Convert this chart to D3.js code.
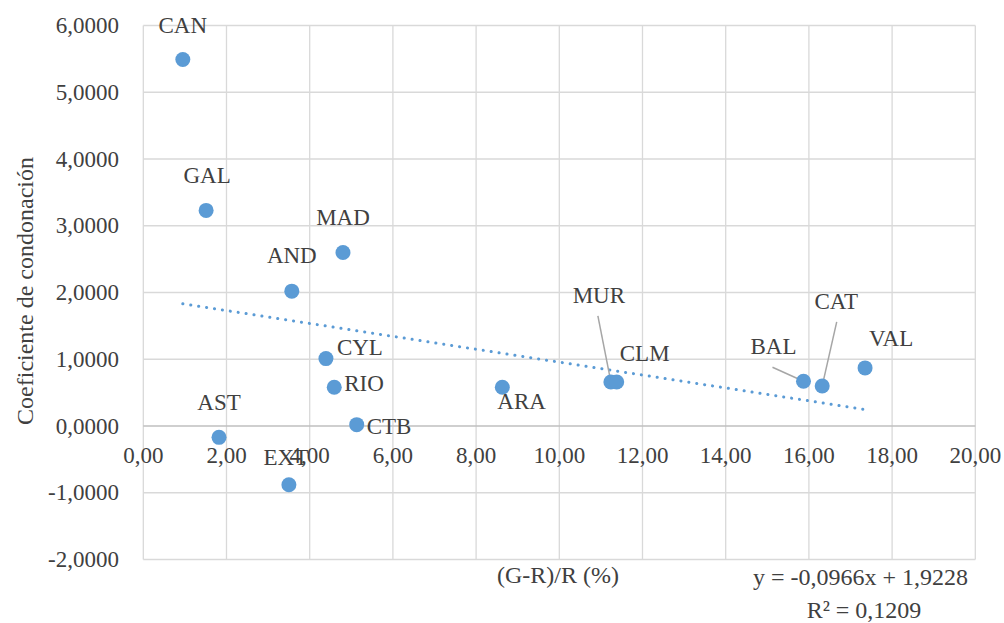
<!DOCTYPE html>
<html>
<head>
<meta charset="utf-8">
<script src="https://cdn.jsdelivr.net/npm/d3@7"></script>
<style>
	body { margin: 0; background: #fff; }
</style>
</head>
<body>
<svg id="chart" width="1004" height="623"></svg>
<script>
const regions = ["CAN", "GAL", "MAD", "AND", "CYL", "RIO", "CTB", "AST", "EXT", "ARA", "MUR", "CLM", "BAL", "CAT", "VAL"];
const growth = [0.95, 1.51, 4.80, 3.57, 4.39, 4.59, 5.13, 1.82, 3.50, 8.63, 11.24, 11.38, 15.87, 16.32, 17.35];
const condonation = [5.49, 3.23, 2.60, 2.02, 1.01, 0.58, 0.02, -0.17, -0.88, 0.58, 0.66, 0.66, 0.67, 0.60, 0.87];
const xTicks = [0, 2, 4, 6, 8, 10, 12, 14, 16, 18, 20];
const yTicks = [-2, -1, 0, 1, 2, 3, 4, 5, 6];
const trend = { slope: -0.0966, intercept: 1.9228, r2: 0.1209 };

// label placement: dx, baseline dy, anchor (relative to the point)
const labelPos = {
	CAN: [0, -27, "middle"], GAL: [1, -27, "middle"], MAD: [0, -27, "middle"],
	AND: [0, -28, "middle"], CYL: [11, -4, "start"], RIO: [10, 4, "start"],
	CTB: [10, 9, "start"], AST: [0, -27, "middle"], EXT: [-3, -20, "middle"],
	ARA: [-5, 22, "start"], MUR: [-12, -79, "middle"], CLM: [28, -21, "middle"],
	BAL: [-30, -27, "middle"], CAT: [14, -77, "middle"], VAL: [26, -22, "middle"]
};
const leaders = { MUR: [-13, -66], BAL: [-31, -14], CAT: [14.5, -64] };

const FONT = "Liberation Serif";
const ink = "#404040";
const svg = d3.select("#chart");
const x = d3.scaleLinear().domain([0, 20]).range([143.3, 975.3]);
const y = d3.scaleLinear().domain([-2, 6]).range([559.5, 25.5]);
const fmt = d => d.toFixed(2).replace(".", ",");
const fmtY = d => d.toFixed(4).replace(".", ",");

function styleText(sel, size) {
	return sel.attr("font-family", FONT).attr("font-size", size).attr("fill", ink);
}

// grid
svg.append("g").selectAll("line").data(xTicks).join("line")
	.attr("x1", d => x(d)).attr("x2", d => x(d))
	.attr("y1", y(6)).attr("y2", y(-2))
	.attr("stroke", "#d9d9d9").attr("stroke-width", 1.3);
svg.append("g").selectAll("line").data(yTicks).join("line")
	.attr("x1", x(0)).attr("x2", x(20))
	.attr("y1", d => y(d)).attr("y2", d => y(d))
	.attr("stroke", d => d === 0 ? "#bfbfbf" : "#d9d9d9").attr("stroke-width", d => d === 0 ? 1.6 : 1.3);

// tick labels
svg.append("g").selectAll("text").data(yTicks).join("text")
	.attr("x", 119).attr("y", d => y(d) + 7.5)
	.attr("text-anchor", "end")
	.call(styleText, 23)
	.text(fmtY);
svg.append("g").selectAll("text").data(xTicks).join("text")
	.attr("x", d => x(d)).attr("y", y(0) + 37)
	.attr("text-anchor", "middle")
	.call(styleText, 23)
	.text(fmt);

// axis titles
svg.append("text")
	.attr("transform", "translate(33,291) rotate(-90)")
	.attr("text-anchor", "middle")
	.call(styleText, 24)
	.text("Coeficiente de condonación");
svg.append("text")
	.attr("x", 558).attr("y", 583)
	.attr("text-anchor", "middle")
	.call(styleText, 24)
	.text("(G-R)/R (%)");

// trendline
const x0 = d3.min(growth), x1 = d3.max(growth);
svg.append("line")
	.attr("x1", x(x0)).attr("y1", y(trend.slope * x0 + trend.intercept))
	.attr("x2", x(x1)).attr("y2", y(trend.slope * x1 + trend.intercept))
	.attr("stroke", "#5b9bd5").attr("stroke-width", 3)
	.attr("stroke-linecap", "round").attr("stroke-dasharray", "0.1 7.9");

// leader lines
const pts = regions.map((r, i) => ({ r, gx: growth[i], cv: condonation[i] }));
svg.append("g").selectAll("line").data(pts.filter(p => leaders[p.r])).join("line")
	.attr("x1", p => x(p.gx)).attr("y1", p => y(p.cv))
	.attr("x2", p => x(p.gx) + leaders[p.r][0]).attr("y2", p => y(p.cv) + leaders[p.r][1])
	.attr("stroke", "#a6a6a6").attr("stroke-width", 1.5);

// points
svg.append("g").selectAll("circle").data(pts).join("circle")
	.attr("cx", p => x(p.gx)).attr("cy", p => y(p.cv)).attr("r", 7.5)
	.attr("fill", "#5b9bd5");

// data labels
svg.append("g").selectAll("text").data(pts).join("text")
	.attr("x", p => x(p.gx) + labelPos[p.r][0])
	.attr("y", p => y(p.cv) + labelPos[p.r][1])
	.attr("text-anchor", p => labelPos[p.r][2])
	.call(styleText, 23)
	.text(p => p.r);

// trend equation
svg.append("text")
	.attr("x", 968).attr("y", 585)
	.attr("text-anchor", "end")
	.call(styleText, 24)
	.text("y = " + trend.slope.toFixed(4).replace(".", ",") + "x + " + trend.intercept.toFixed(4).replace(".", ","));
svg.append("text")
	.attr("x", 864).attr("y", 618)
	.attr("text-anchor", "middle")
	.call(styleText, 24)
	.text("R² = " + trend.r2.toFixed(4).replace(".", ","));
</script>
</body>
</html>
